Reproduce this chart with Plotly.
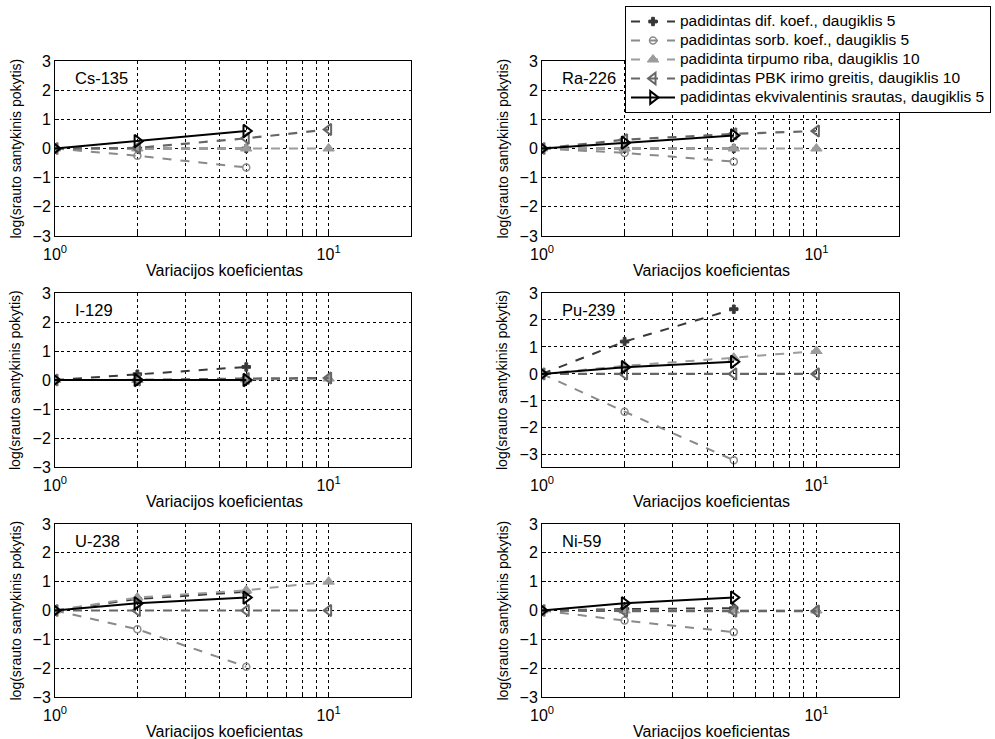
import math
import plotly.graph_objects as go

# ---- data ----
nuclides = ["Cs-135", "Ra-226", "I-129", "Pu-239", "U-238", "Ni-59"]
x5 = [1, 2, 5]
x10 = [1, 2, 5, 10]

series_names = [
    "padidintas dif. koef., daugiklis 5",
    "padidintas sorb. koef., daugiklis 5",
    "padidinta tirpumo riba, daugiklis 10",
    "padidintas PBK irimo greitis, daugiklis 10",
    "padidintas ekvivalentinis srautas, daugiklis 5",
]

dif = {
    "Cs-135": [0, 0.0, 0.0],
    "Ra-226": [0, 0.0, 0.0],
    "I-129": [0, 0.2, 0.45],
    "Pu-239": [0, 1.2, 2.4],
    "U-238": [0, 0.4, 0.65],
    "Ni-59": [0, 0.05, 0.08],
}
sorb = {
    "Cs-135": [0, -0.25, -0.65],
    "Ra-226": [0, -0.15, -0.45],
    "I-129": [0, 0.0, 0.0],
    "Pu-239": [0, -1.4, -3.2],
    "U-238": [0, -0.65, -1.95],
    "Ni-59": [0, -0.35, -0.75],
}
tirp = {
    "Cs-135": [0, 0.0, 0.0, 0.0],
    "Ra-226": [0, 0.0, 0.0, 0.0],
    "I-129": [0, 0.0, 0.02, 0.05],
    "Pu-239": [0, 0.3, 0.6, 0.85],
    "U-238": [0, 0.45, 0.7, 1.0],
    "Ni-59": [0, 0.0, 0.0, 0.0],
}
pbk = {
    "Cs-135": [0, 0.02, 0.35, 0.65],
    "Ra-226": [0, 0.3, 0.5, 0.6],
    "I-129": [0, 0.0, 0.05, 0.07],
    "Pu-239": [0, 0.0, 0.0, 0.0],
    "U-238": [0, 0.0, 0.0, 0.0],
    "Ni-59": [0, -0.02, -0.02, -0.02],
}
ekv = {
    "Cs-135": [0, 0.25, 0.6],
    "Ra-226": [0, 0.2, 0.45],
    "I-129": [0, 0.0, 0.0],
    "Pu-239": [0, 0.25, 0.45],
    "U-238": [0, 0.25, 0.45],
    "Ni-59": [0, 0.25, 0.45],
}
yranges = {"Pu-239": [-3.45, 3]}

xtick_vals = [1, 2, 3, 4, 5, 6, 7, 8, 9, 10]
xtick_text = ["10<sup>0</sup>", "", "", "", "", "", "", "", "", "10<sup>1</sup>"]
ytick_vals = [-3, -2, -1, 0, 1, 2, 3]
x_title = "Variacijos koeficientas"
y_title = "log(srauto santykinis pokytis)"

# ---- layout geometry (pixels) ----
W, H = 995, 739
cols = [(55, 411), (542, 899)]
rows = [(61, 236), (293, 467), (524, 697)]

styles = [
    dict(color="#383838", dash="dash", width=2, symbol="cross", size=7, mw=1),
    dict(color="#8a8a8a", dash="dash", width=2, symbol="circle-open", size=7, mw=1.5),
    dict(color="#9c9c9c", dash="dash", width=2, symbol="triangle-up", size=10, mw=1),
    dict(color="#666666", dash="dash", width=2.2, symbol="triangle-left-open", size=10, mw=2),
    dict(color="#000000", dash="solid", width=2, symbol="triangle-right-open", size=11, mw=2),
]

fig = go.Figure()
annotations = []
font_family = "Liberation Sans, Arial, sans-serif"

for i, nuc in enumerate(nuclides):
    r, c = divmod(i, 2)
    ax = "" if i == 0 else str(i + 1)
    xa, ya = "x" + ax, "y" + ax
    data = [(x5, dif[nuc]), (x5, sorb[nuc]), (x10, tirp[nuc]), (x10, pbk[nuc]), (x5, ekv[nuc])]
    for k, (xs, ys) in enumerate(data):
        s = styles[k]
        fig.add_trace(go.Scatter(
            x=xs, y=ys, mode="lines+markers",
            name='<span style="font-size:15.5px">' + series_names[k] + "</span>",
            legendgroup=series_names[k], showlegend=(i == 0),
            line=dict(color=s["color"], dash=s["dash"], width=s["width"]),
            marker=dict(symbol=s["symbol"], size=s["size"], color=s["color"],
                        line=dict(color=s["color"], width=s["mw"])),
            xaxis=xa, yaxis=ya,
        ))
    x0, x1 = cols[c]
    y0, y1 = rows[r]
    common = dict(showline=True, mirror=True, linecolor="black", linewidth=1,
                  ticks="inside", ticklen=4, tickcolor="black", automargin=False,
                  showgrid=True, gridcolor="black", griddash="dot", gridwidth=1,
                  zeroline=False, tickfont=dict(size=16, color="black", family=font_family))
    fig.layout["xaxis" + ax] = dict(
        domain=[x0 / W, x1 / W], anchor=ya, type="log",
        range=[0, math.log10(20)], tickvals=xtick_vals, ticktext=xtick_text,
        ticklabelstandoff=4, **common)
    fig.layout["yaxis" + ax] = dict(
        domain=[1 - y1 / H, 1 - y0 / H], anchor=xa,
        range=yranges.get(nuc, [-3, 3]), tickvals=ytick_vals, **common)
    # panel label
    annotations.append(dict(x=(x0 + 18) / W, y=1 - (y0 + 17) / H, xref="paper", yref="paper",
                            text=nuc, showarrow=False, xanchor="left", yanchor="middle",
                            font=dict(size=16.5, color="black", family=font_family)))
    # x title
    annotations.append(dict(x=((x0 + x1) / 2 - 9) / W, y=1 - (y1 + 34) / H, xref="paper", yref="paper",
                            text=x_title, showarrow=False, xanchor="center", yanchor="middle",
                            font=dict(size=16, color="black", family=font_family)))
    # y title
    annotations.append(dict(x=(x0 - 40) / W, y=1 - (y0 + y1) / 2 / H, xref="paper", yref="paper",
                            text=y_title, showarrow=False, textangle=-90,
                            xanchor="center", yanchor="middle",
                            font=dict(size=14, color="black", family=font_family)))

fig.update_layout(
    width=W, height=H, margin=dict(l=0, r=0, t=0, b=0, autoexpand=False),
    paper_bgcolor="white", plot_bgcolor="white",
    font=dict(family=font_family, color="black"),
    annotations=annotations,
    legend=dict(x=625 / W, y=1 - 6 / H, xanchor="left", yanchor="top",
                bgcolor="white", bordercolor="black", borderwidth=1,
                font=dict(size=12, color="black", family=font_family),
                tracegroupgap=0, itemwidth=44),
)

fig.write_html("out.html", config={"displayModeBar": False},
               post_script="document.body.style.margin='0';document.body.style.overflow='hidden';")
